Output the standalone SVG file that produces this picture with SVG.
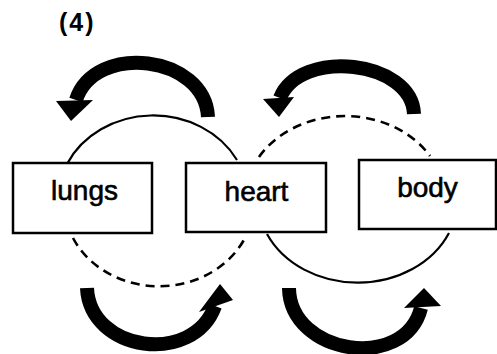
<svg xmlns="http://www.w3.org/2000/svg" width="497" height="354" viewBox="0 0 497 354">
<style>
.box{fill:#fff;stroke:#000;stroke-width:2.5}
.lbl{font-family:"Liberation Sans",Arial,sans-serif;font-size:28px;fill:#000;stroke:#000;stroke-width:0.6;text-anchor:middle}
.title{font-family:"Liberation Sans",Arial,sans-serif;font-size:25px;font-weight:bold;fill:#000;letter-spacing:2px}
.solid{fill:none;stroke:#000;stroke-width:2.2}
.dash{fill:none;stroke:#000;stroke-width:2.6;stroke-dasharray:9 6}
.band{fill:none;stroke:#000;stroke-width:14}
.head{fill:#000}
</style>
<rect width="497" height="354" fill="#fff"/>
<text class="title" x="59" y="31">(4)</text>
<g id="connectors">
<path class="solid" d="M67,164 A95,84 0 0 1 237,160"/>
<path class="dash" d="M73,238 A95,84 0 0 0 245,238"/>
<path class="dash" d="M259,157 A100,84 0 0 1 430,156"/>
<path class="solid" d="M267,234 A100,84 0 0 0 449,233"/>
<g id="arrow-top-left">
<path class="band" d="M208,117 C205,55 95,42 76,100"/>
<polygon class="head" points="56,101 93,100 71,121"/>
</g>
<g id="arrow-top-right">
<path class="band" d="M414,114 C412,60 300,48 280,98"/>
<polygon class="head" points="263,99 294,97 279,117"/>
</g>
<g id="arrow-bottom-left">
<path class="band" d="M87,288 C90,352 193,366 215,306"/>
<polygon class="head" points="199,312 233,300 220,284"/>
</g>
<g id="arrow-bottom-right">
<path class="band" d="M289,288 C290,355 405,372 421,308"/>
<polygon class="head" points="404,308 441,306 424,288"/>
</g>
</g>
<g id="lungs">
<rect class="box" x="13" y="163" width="139" height="70"/>
<text class="lbl" x="84.5" y="200">lungs</text>
</g>
<g id="heart">
<rect class="box" x="186" y="163" width="140" height="69"/>
<text class="lbl" x="256.5" y="201">heart</text>
</g>
<g id="body">
<rect class="box" x="359" y="160" width="137" height="69"/>
<text class="lbl" x="427.5" y="197">body</text>
</g>
</svg>
